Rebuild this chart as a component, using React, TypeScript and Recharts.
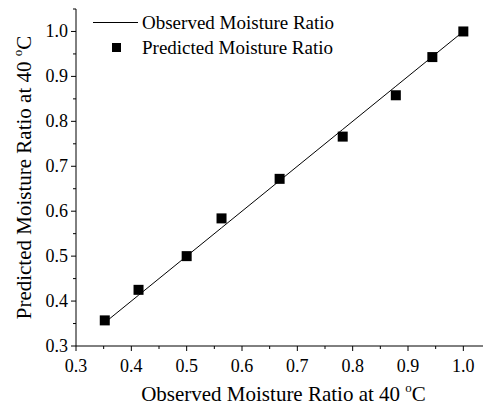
import { Label, Legend, Scatter, ScatterChart, XAxis, YAxis } from "recharts";

// observed vs predicted moisture ratio at 40 °C
const observed = [0.352, 0.413, 0.5, 0.563, 0.668, 0.782, 0.878, 0.944, 1.0];
const predicted = [0.357, 0.425, 0.5, 0.584, 0.672, 0.766, 0.858, 0.943, 1.0];

const axisTicks = [
  0.3, 0.35, 0.4, 0.45, 0.5, 0.55, 0.6, 0.65, 0.7, 0.75, 0.8, 0.85, 0.9,
  0.95, 1.0, 1.05,
];

const FONT = "'Liberation Serif', 'Times New Roman', serif";

const lineData = observed.map((v) => ({ x: v, y: v }));
const pointData = observed.map((v, i) => ({ x: v, y: predicted[i] }));

const isMajor = (v: number) => Math.round(v * 100) % 10 === 0;

function XTick(props: any) {
  const { x, y, payload } = props;
  const major = isMajor(payload.value);
  return (
    <g>
      <line x1={x} x2={x} y1={y} y2={y + (major ? 5 : 3)} stroke="#000" />
      {major && (
        <text x={x} y={y + 26} textAnchor="middle" fontSize={18} fontFamily={FONT} fill="#000">
          {payload.value.toFixed(1)}
        </text>
      )}
    </g>
  );
}

function YTick(props: any) {
  const { x, y, payload } = props;
  const major = isMajor(payload.value);
  return (
    <g>
      <line x1={x - (major ? 5 : 3)} x2={x} y1={y} y2={y} stroke="#000" />
      {major && (
        <text x={x - 8} y={y + 6} textAnchor="end" fontSize={18} fontFamily={FONT} fill="#000">
          {payload.value.toFixed(1)}
        </text>
      )}
    </g>
  );
}

function Square(props: any) {
  const { cx, cy } = props;
  return <rect x={cx - 5} y={cy - 5} width={10} height={10} fill="#000" />;
}

function NoShape() {
  return <g />;
}

function LegendBox() {
  return (
    <svg width={360} height={52} style={{ display: "block" }}>
      <line x1={85} x2={130} y1={14.5} y2={14.5} stroke="#000" />
      <text x={134} y={21} fontSize={19} fontFamily={FONT} fill="#000">
        Observed Moisture Ratio
      </text>
      <rect x={104} y={35} width={9} height={9} fill="#000" />
      <text x={134} y={46} fontSize={19} fontFamily={FONT} fill="#000">
        Predicted Moisture Ratio
      </text>
    </svg>
  );
}

function XTitle(props: any) {
  const { x, y, width } = props.viewBox;
  return (
    <text x={x + width / 2} y={y + 55} textAnchor="middle" fontSize={21} fontFamily={FONT} fill="#000">
      Observed Moisture Ratio at 40{" "}
      <tspan fontSize={13} dy={-9}>o</tspan>
      <tspan dy={9}>C</tspan>
    </text>
  );
}

function YTitle(props: any) {
  const { y, height } = props.viewBox;
  const cx = 23;
  const cy = y + height / 2;
  return (
    <text
      x={cx}
      y={cy}
      transform={`rotate(-90 ${cx} ${cy})`}
      textAnchor="middle"
      fontSize={21}
      fontFamily={FONT}
      fill="#000"
    >
      Predicted Moisture Ratio at 40{" "}
      <tspan fontSize={13} dy={-9}>o</tspan>
      <tspan dy={9}>C</tspan>
    </text>
  );
}

export default function App() {
  return (
    <ScatterChart
      width={483}
      height={399}
      margin={{ top: 1, right: 0, bottom: 0, left: 0 }}
    >
      <XAxis
        type="number"
        dataKey="x"
        domain={[0.3, 1.05]}
        ticks={axisTicks}
        interval={0}
        allowDataOverflow
        height={61}
        tickSize={0}
        tickMargin={0}
        tickLine={false}
        axisLine={{ stroke: "#000" }}
        tick={<XTick />}
      >
        <Label content={<XTitle />} />
      </XAxis>
      <YAxis
        type="number"
        dataKey="y"
        domain={[0.3, 1.05]}
        ticks={axisTicks}
        interval={0}
        allowDataOverflow
        width={68}
        tickSize={0}
        tickMargin={0}
        tickLine={false}
        axisLine={{ stroke: "#000" }}
        tick={<YTick />}
      >
        <Label content={<YTitle />} />
      </YAxis>
      <Legend
        layout="horizontal"
        verticalAlign="middle"
        align="center"
        content={<LegendBox />}
        wrapperStyle={{ left: 0, top: 0, width: 360 }}
      />
      <Scatter
        name="Observed Moisture Ratio"
        data={lineData}
        line={{ stroke: "#000", strokeWidth: 1 }}
        shape={<NoShape />}
        isAnimationActive={false}
      />
      <Scatter
        name="Predicted Moisture Ratio"
        data={pointData}
        shape={<Square />}
        isAnimationActive={false}
      />
    </ScatterChart>
  );
}
